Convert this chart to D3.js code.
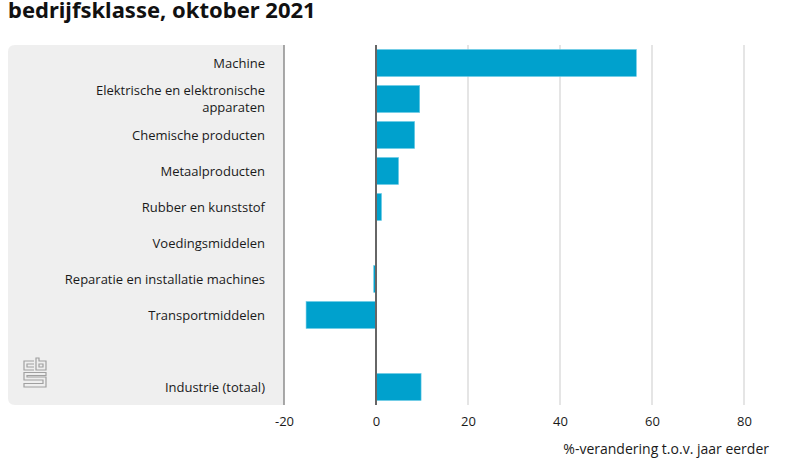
<!DOCTYPE html>
<html><head><meta charset="utf-8">
<script src="https://cdn.jsdelivr.net/npm/d3@7"></script>
<style>
body{margin:0;background:#fff;}
svg{display:block;font-family:"Open Sans",sans-serif;}
</style></head>
<body><svg id="c" width="800" height="475"></svg>
<script>
const title = "bedrijfsklasse, oktober 2021";
const categories = ["Machine","Elektrische en elektronische|apparaten","Chemische producten","Metaalproducten","Rubber en kunststof","Voedingsmiddelen","Reparatie en installatie machines","Transportmiddelen","","Industrie (totaal)"];
const values = [56.6, 9.5, 8.4, 4.9, 1.2, 0.0, -0.5, -15.2, null, 9.8];
const tickValues = [-20, 0, 20, 40, 60, 80];
const axisTitle = "%-verandering t.o.v. jaar eerder";

(function(){
const svg = d3.select("#c");
const pTop = 45, pBottom = 405, pLeft = 284, panelLeft = 8;
const x = d3.scaleLinear().domain([-20, 85]).range([284, 767]);
const y = d3.scaleBand().domain(categories.map((c,i)=>i)).range([pTop, pBottom]).paddingInner(0.25).paddingOuter(0.125);

// title
svg.append("text").attr("x", 8).attr("y", 18).attr("font-size", 22).attr("font-weight", 700)
  .attr("font-family", "'Noto Sans', sans-serif").attr("fill", "#111").text(title);

// panel
const r = 7;
svg.append("path").attr("fill", "#efefef")
  .attr("d", `M${pLeft},${pTop} H${panelLeft + r} Q${panelLeft},${pTop} ${panelLeft},${pTop + r} V${pBottom - r} Q${panelLeft},${pBottom} ${panelLeft + r},${pBottom} H${pLeft} Z`);

// grid
svg.append("g").selectAll("line").data(tickValues.filter(v => v > 0)).join("line")
  .attr("x1", d => x(d)).attr("x2", d => x(d)).attr("y1", pTop).attr("y2", pBottom)
  .attr("stroke", "#dcdcdc").attr("stroke-width", 1.5);
svg.append("line").attr("x1", x(-20)).attr("x2", x(-20)).attr("y1", pTop).attr("y2", pBottom)
  .attr("stroke", "#8c8c8c").attr("stroke-width", 1.5);

// bars
svg.append("g").selectAll("rect").data(values.map((v,i)=>({v,i})).filter(d => d.v !== null && d.v !== 0)).join("rect")
  .attr("x", d => x(Math.min(0, d.v))).attr("width", d => Math.abs(x(d.v) - x(0)))
  .attr("y", d => y(d.i)).attr("height", y.bandwidth())
  .attr("fill", "#00a1cd").attr("stroke", "#6ccbe6").attr("stroke-width", 0.6);

// zero line
svg.append("line").attr("x1", x(0)).attr("x2", x(0)).attr("y1", pTop).attr("y2", pBottom)
  .attr("stroke", "#666").attr("stroke-width", 2);

// category labels
const lab = svg.append("g").attr("font-size", 13).attr("fill", "#1a1a1a").attr("text-anchor", "end");
categories.forEach((c, i) => {
  if (!c) return;
  const lines = c.split("|");
  const cy = y(i) + y.bandwidth() / 2;
  const lh = 17;
  const t = lab.append("text").attr("y", cy - (lines.length - 1) * lh / 2);
  lines.forEach((l, k) => t.append("tspan").attr("x", 265).attr("dy", k === 0 ? "0.35em" : lh).text(l));
});

// x axis
const ax = svg.append("g").attr("transform", `translate(0,${pBottom})`)
  .call(d3.axisBottom(x).tickValues(tickValues).tickSize(0).tickPadding(12).tickFormat(d => String(d)));
ax.select(".domain").remove();
ax.selectAll("text").attr("font-size", 13).attr("fill", "#1a1a1a").attr("font-family", "'Open Sans',sans-serif");

svg.append("text").attr("x", 769).attr("y", 454).attr("text-anchor", "end").attr("font-size", 14)
  .attr("fill", "#1a1a1a").text(axisTitle);

// cbs logo
const lg = svg.append("g").attr("transform", "translate(23,358)").attr("fill", "none").attr("stroke", "#a0a0a0").attr("stroke-width", 1.2);
lg.append("path").attr("d", "M11,3 H1 V12 H11 M11,6 H4 V9 H11");
lg.append("path").attr("d", "M13,0 V12 H23 V3 H16 V0 Z M16,6 H20 V9 H16 Z");
lg.append("path").attr("d", "M23,14.5 H1 V22 H20 V25.5 H1 V29 H23 V19 H4 V17.5 H23 Z");
})();
</script></body></html>
